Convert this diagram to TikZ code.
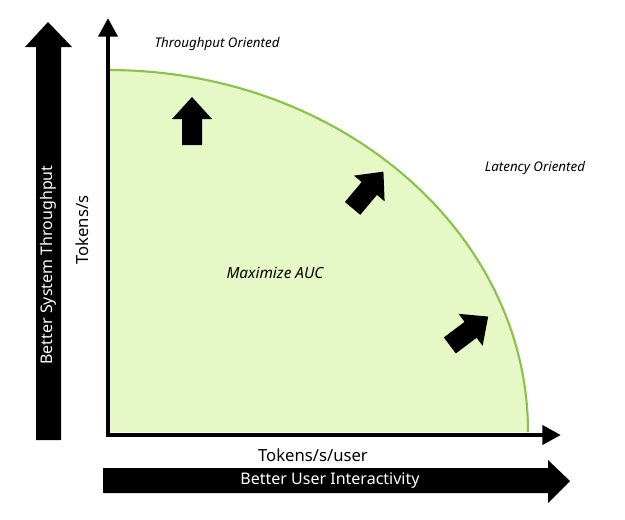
\documentclass[tikz,border=0pt]{standalone}
\usepackage{fontspec}
\setmainfont{Noto Sans}
\usetikzlibrary{arrows.meta, positioning}
\definecolor{aucfill}{HTML}{E6F8C6}
\definecolor{aucline}{HTML}{8BC34A}
\tikzset{
	axis/.style={line width=3.5pt, -{Triangle[width=14pt,length=14pt]}},
	label/.style={font=\fontsize{12.5}{14}\selectfont},
	corner/.style={font=\fontsize{10}{12}\selectfont\itshape},
	bigtext/.style={font=\fontsize{12}{14}\selectfont, text=white},
}
% small block arrow, centred at #1, turned by #2
\newcommand{\blockarrow}[2]{
	\fill[black, shift={#1}, rotate=#2] (-24,-10) -- (2,-10) -- (2,-20) -- (24,0) -- (2,20) -- (2,10) -- (-24,10) -- cycle;
}
\begin{document}
\begin{tikzpicture}[x=0.75pt, y=-0.75pt]
	\useasboundingbox (0,0) rectangle (625,519);
	
	% area under the curve
	\fill[aucfill] (108,432) -- (108,70) arc[start angle=-90, end angle=0, x radius=420, y radius=362] -- cycle;
	\draw[aucline, line width=1.6pt] (108,70) arc[start angle=-90, end angle=0, x radius=420, y radius=362];
	
	% axes
	\coordinate (o) at (108,435);
	\coordinate (ytip) at (108,18);
	\coordinate (xtip) at (561,435);
	\draw[axis] (o) ++(0,2) -- (ytip);
	\draw[axis] (o) ++(-2,0) -- (xtip);
	
	% big arrows
	\fill (36,440) -- (36,47) -- (25,47) -- (48,22) -- (72,47) -- (61,47) -- (61,440) -- cycle;
	\fill (103,468) -- (548,468) -- (548,460) -- (570,481) -- (548,503) -- (548,493) -- (103,493) -- cycle;
	
	\node (ysys) [bigtext, rotate=90] at (48,265) {Better System Throughput};
	\node (xsys) [bigtext] at (330,481) {Better User Interactivity};
	\node (ylab) [label, rotate=90] at (82,230) {Tokens/s};
	\node (xlab) [label] at (313,455) {Tokens/s/user};
	\node (thr) [corner] at (217,44) {Throughput Oriented};
	\node (lat) [corner] at (535,168) {Latency Oriented};
	\node (auc) [corner, font=\fontsize{11.5}{13}\selectfont\itshape] at (275,273) {Maximize AUC};
	
	% directions
	\blockarrow{(192,121)}{90}
	\blockarrow{(368,190)}{50}
	\blockarrow{(469,331)}{37}
	
\end{tikzpicture}
\end{document}
